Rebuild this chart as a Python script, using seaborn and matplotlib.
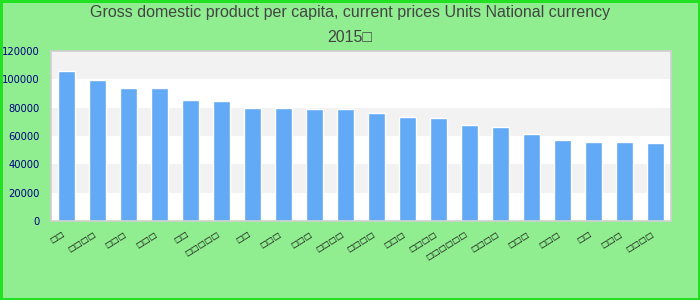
import matplotlib
matplotlib.use("Agg")
import matplotlib.pyplot as plt
import matplotlib.transforms as mtransforms
import seaborn as sns
import pandas as pd

# ---- data ----
labels = ["□□", "□□□□", "□□□", "□□□", "□□", "□□□□□", "□□", "□□□", "□□□", "□□□□",
          "□□□□", "□□□", "□□□□", "□□□□□□", "□□□□", "□□□", "□□□", "□□", "□□□", "□□□□"]
values = [105900, 99500, 93900, 93800, 85400, 84700, 79800, 79700, 79100, 79000,
          76200, 73400, 72700, 67800, 66400, 61400, 57200, 55800, 55700, 55100]
yticks = [0, 20000, 40000, 60000, 80000, 100000, 120000]
title_lines = ["Gross domestic product per capita, current prices Units National currency", "2015□"]

df = pd.DataFrame({"pos": list(range(len(values))), "value": values})

sns.set_theme(style="white")
plt.rcParams["font.family"] = ["DejaVu Sans"]

fig = plt.figure(figsize=(7, 3), dpi=100)
fig.patch.set_facecolor("#90EE90")
fig.patch.set_edgecolor("#22E022")
fig.patch.set_linewidth(2.2)

ax = fig.add_axes([51 / 700, 79 / 300, 620 / 700, 170 / 300])
ax.set_facecolor("white")

# alternating horizontal bands
for i in range(len(yticks) - 1):
    if i % 2 == 1:
        ax.axhspan(yticks[i], yticks[i + 1], color="#F2F2F2", zorder=0, lw=0)

sns.barplot(data=df, x="pos", y="value", color="#62AAF5", width=0.55,
            saturation=1, ax=ax, zorder=2)

ax.set_xlim(-0.5, len(values) - 0.5)
ax.set_ylim(yticks[0], yticks[-1])
ax.set_yticks(yticks)
ax.set_yticklabels([str(t) for t in yticks], color="#000080", fontsize=7.2,
                   family="DejaVu Sans")
ax.tick_params(axis="y", length=0, pad=8)
ax.set_xticks(range(len(labels)))
ax.set_xticklabels(labels, rotation=32, ha="right", va="top",
                   rotation_mode="anchor", fontsize=6, color="#111111")
ax.tick_params(axis="x", length=0, pad=6)
offset = mtransforms.ScaledTranslation(-5 / 100, 0, fig.dpi_scale_trans)
for lab in ax.get_xticklabels():
    lab.set_transform(lab.get_transform() + offset)
ax.set_xlabel("")
ax.set_ylabel("")
for s in ax.spines.values():
    s.set_color("#D0D0D0")
    s.set_linewidth(1.2)

fig.text(0.5, 1 - 13 / 300, title_lines[0], ha="center", va="center",
         fontsize=11.5, color="#444444", family="Liberation Sans")
fig.text(0.5, 1 - 37 / 300, title_lines[1], ha="center", va="center",
         fontsize=11.5, color="#444444", family="Liberation Sans")

fig.savefig("out.png", dpi=100, facecolor=fig.get_facecolor(),
            edgecolor=fig.get_edgecolor())
